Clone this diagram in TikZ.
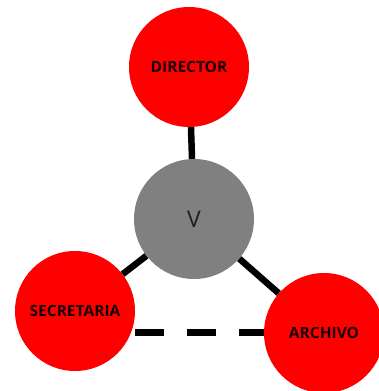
\documentclass[tikz,border=0pt]{standalone}
\usepackage{fontspec}
\setmainfont{Open Sans}
\begin{document}
\begin{tikzpicture}[x=1pt,y=1pt,
  rednode/.style={circle,fill=red,draw=none,minimum size=120pt,inner sep=0pt,
    font=\fontsize{15.5}{17}\selectfont\bfseries, text={rgb,255:red,25;green,0;blue,0}},
  graynode/.style={circle,fill={rgb,255:red,128;green,128;blue,128},draw=none,minimum size=120pt,inner sep=0pt,
    font=\fontsize{23}{25}\selectfont, text={rgb,255:red,30;green,30;blue,30}},
  link/.style={line width=6.5pt,black},
  dashlink/.style={line width=7pt,black,dash pattern=on 29pt off 23pt}]
\useasboundingbox (0,0) rectangle (379,391);
\node[rednode] (D) at (189,324) {DIRECTOR};
\node[graynode] (V) at (194,172) {V};
\node[rednode] (S) at (75,80) {SECRETARIA};
\node[rednode] (A) at (324,58) {ARCHIVO};
\draw[link] (D) -- (V);
\draw[link] (V) -- (S);
\draw[link] (V) -- (A);
\draw[dashlink] (S.east |- A.west) -- (A.west);
\end{tikzpicture}
\end{document}
